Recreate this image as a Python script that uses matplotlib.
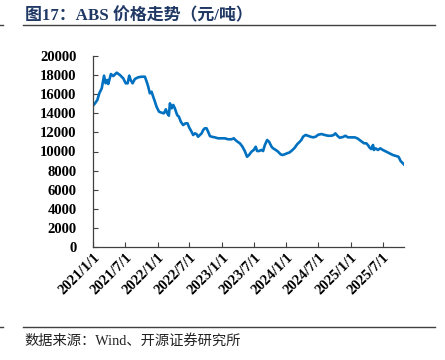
import matplotlib
matplotlib.use("Agg")
import matplotlib.pyplot as plt
import pandas as pd
from matplotlib.lines import Line2D

# ABS price, yuan/ton
dates = [
    "2021-01-04", "2021-01-11", "2021-01-24", "2021-02-04", "2021-02-18", "2021-03-03",
    "2021-03-12", "2021-03-21", "2021-03-27", "2021-04-11", "2021-04-24", "2021-05-14",
    "2021-06-01", "2021-06-20", "2021-07-04", "2021-07-15", "2021-07-24", "2021-08-01",
    "2021-08-12", "2021-08-25", "2021-09-13", "2021-10-02", "2021-10-21", "2021-10-31",
    "2021-11-09", "2021-11-18", "2021-11-28", "2021-12-07", "2021-12-17", "2021-12-26",
    "2022-01-09", "2022-01-24", "2022-02-06", "2022-02-17", "2022-02-25", "2022-03-06",
    "2022-03-12", "2022-03-22", "2022-03-31", "2022-04-09", "2022-04-22", "2022-05-02",
    "2022-05-13", "2022-05-26", "2022-06-09", "2022-06-20", "2022-06-29", "2022-07-13",
    "2022-07-22", "2022-08-01", "2022-08-10", "2022-08-19", "2022-08-29", "2022-09-08",
    "2022-09-17", "2022-09-26", "2022-10-06", "2022-10-15", "2022-10-25", "2022-11-03",
    "2022-11-22", "2022-12-11", "2022-12-30", "2023-01-18", "2023-02-05", "2023-02-25",
    "2023-03-10", "2023-03-19", "2023-03-31", "2023-04-13", "2023-04-27", "2023-05-11",
    "2023-05-24", "2023-06-04", "2023-06-18", "2023-07-01", "2023-07-12", "2023-07-20",
    "2023-07-31", "2023-08-14", "2023-08-23", "2023-09-02", "2023-09-15", "2023-09-26",
    "2023-10-10", "2023-10-19", "2023-11-03", "2023-11-16", "2023-11-30", "2023-12-11",
    "2023-12-24", "2024-01-06", "2024-01-21", "2024-02-06", "2024-02-19", "2024-03-03",
    "2024-03-18", "2024-03-27", "2024-04-06", "2024-04-20", "2024-05-04", "2024-05-18",
    "2024-06-01", "2024-06-17", "2024-06-30", "2024-07-19", "2024-08-07", "2024-08-25",
    "2024-09-14", "2024-09-27", "2024-10-06", "2024-10-18", "2024-10-31", "2024-11-19",
    "2024-12-02", "2024-12-17", "2025-01-05", "2025-01-24", "2025-02-08", "2025-02-21",
    "2025-03-06", "2025-03-18", "2025-03-31", "2025-04-09", "2025-04-19", "2025-04-28",
    "2025-05-08", "2025-05-13", "2025-05-23", "2025-06-05", "2025-06-18", "2025-07-03",
    "2025-07-22", "2025-08-10", "2025-08-29", "2025-09-17", "2025-09-30", "2025-10-12",
    "2025-10-25", "2025-10-30",
]
prices = [
    14900, 15050, 15390, 16090, 16620, 17940,
    17140, 17490, 17070, 18110, 17900, 18250,
    18010, 17660, 17140, 17140, 17940, 17490,
    17140, 17590, 17770, 17830, 17830, 17310,
    16780, 16090, 16260, 15740, 15210, 14690,
    14170, 14060, 14000, 14420, 14000, 13750,
    15040, 14520, 14870, 14520, 13820, 13640,
    13120, 12770, 12950, 12950, 12530, 12070,
    11730, 11900, 11830, 11550, 11730, 11900,
    12250, 12430, 12430, 12070, 11620, 11550,
    11480, 11380, 11380, 11380, 11280, 11280,
    11380, 11200, 11020, 10860, 10530, 10050,
    9450, 9630, 9980, 10160, 10500, 10050,
    10050, 10160, 10050, 10680, 11200, 11020,
    10500, 10330, 10160, 9980, 9710, 9630,
    9710, 9810, 9910, 10160, 10400, 10750,
    11020, 11200, 11550, 11730, 11650, 11550,
    11480, 11550, 11750, 11830, 11730, 11650,
    11650, 11730, 11900, 11650, 11440, 11520,
    11650, 11480, 11480, 11480, 11380, 11200,
    11020, 10860, 10860, 10680, 10400, 10260,
    10680, 10160, 10330, 10160, 10330, 10160,
    9980, 9810, 9630, 9530, 9450, 9000,
    8760, 8660,
]
tick_dates = ["2021-01-01", "2021-07-01", "2022-01-01", "2022-07-01", "2023-01-01",
              "2023-07-01", "2024-01-01", "2024-07-01", "2025-01-01", "2025-07-01"]
tick_labels = ["2021/1/1", "2021/7/1", "2022/1/1", "2022/7/1", "2023/1/1",
               "2023/7/1", "2024/1/1", "2024/7/1", "2025/1/1", "2025/7/1"]
y_ticks = list(range(0, 20001, 2000))

title = "图17：ABS 价格走势（元/吨）"
source = "数据来源：Wind、开源证券研究所"

x = pd.to_datetime(dates)
W, H = 445, 360
fig = plt.figure(figsize=(W / 100, H / 100), dpi=100)
ax = fig.add_axes([93.3 / W, 1 - 247 / H, (404 - 93.3) / W, (247 - 56) / H])

ax.plot(x, prices, color="#0070C0", linewidth=1.9, solid_joinstyle="round")

ax.set_xlim(pd.Timestamp("2021-01-01"), pd.Timestamp("2025-10-31"))
ax.set_ylim(0, 20000)
ax.set_yticks(y_ticks)
ax.set_yticklabels([str(v) for v in y_ticks])
ax.set_xticks(pd.to_datetime(tick_dates))
ax.set_xticklabels(tick_labels)

for s in ["top", "right"]:
    ax.spines[s].set_visible(False)
for s in ["left", "bottom"]:
    ax.spines[s].set_color("#404040")
    ax.spines[s].set_linewidth(0.9)

ax.tick_params(axis="both", direction="in", length=3.5, width=0.8, color="#404040")
ax.tick_params(axis="y", pad=12)
ax.tick_params(axis="x", pad=3)
for lab in ax.get_yticklabels():
    lab.set_fontfamily("Liberation Serif")
    lab.set_fontweight("bold")
    lab.set_fontsize(10.5)
for lab in ax.get_xticklabels():
    lab.set_fontfamily("Liberation Serif")
    lab.set_fontweight("bold")
    lab.set_fontsize(10.5)
    lab.set_rotation(45)
    lab.set_ha("right")
    lab.set_rotation_mode("anchor")

# title, rules and source note
fig.text(25 / W, 1 - 16 / H, title, family=["Liberation Serif", "Noto Sans CJK SC"],
         fontweight="bold", fontsize=12.2, color="#1F3864", va="center", ha="left")
for yy in (25, 327):
    fig.add_artist(Line2D([23 / W, 435 / W], [1 - yy / H, 1 - yy / H],
                          transform=fig.transFigure, color="#404040", linewidth=1.0))
    fig.add_artist(Line2D([0, 3 / W], [1 - yy / H, 1 - yy / H],
                          transform=fig.transFigure, color="#404040", linewidth=1.0))
fig.text(24 / W, 1 - 341 / H, source, family=["Liberation Serif", "Noto Sans CJK SC"],
         fontsize=10.3, color="#222222", va="center", ha="left")

fig.savefig("out.png", dpi=100)
